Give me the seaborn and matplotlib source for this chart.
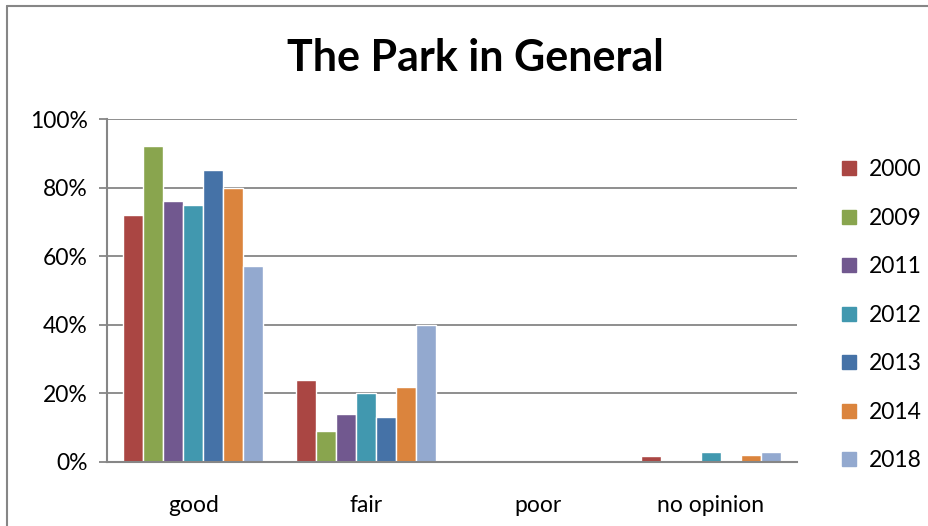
import numpy as np
import pandas as pd
import matplotlib
matplotlib.use('Agg')
import matplotlib.pyplot as plt
import seaborn as sns
from matplotlib.lines import Line2D
from matplotlib.ticker import FixedLocator

categories = ['good', 'fair', 'poor', 'no opinion']
years = ['2000', '2009', '2011', '2012', '2013', '2014', '2018']
v2000 = [72, 24, 0.6, 1.7]
v2009 = [92, 9, 0, 0]
v2011 = [76, 14, 0, 0.5]
v2012 = [75, 20, 0, 3]
v2013 = [85, 13, 0, 0]
v2014 = [80, 22, 0, 2]
v2018 = [57, 40, 0, 3]
colors = ['#AA4643', '#89A54E', '#71588F', '#4198AF', '#4572A7', '#DB843D', '#93A9CF']

rows = []
for yr, vals in zip(years, [v2000, v2009, v2011, v2012, v2013, v2014, v2018]):
    for c, v in zip(categories, vals):
        rows.append({'category': c, 'year': yr, 'value': v})
df = pd.DataFrame(rows)

sns.set_style('white')
plt.rcParams['font.family'] = ['Lato', 'DejaVu Sans']
plt.rcParams['text.color'] = 'black'
plt.rcParams['xtick.color'] = 'black'
plt.rcParams['ytick.color'] = 'black'

fs = 16.5

fig = plt.figure(figsize=(9.29, 5.26), dpi=100)
ax = fig.add_axes([107/929, 1 - 462/526, 690/929, 343/526])

sns.barplot(data=df, x='category', y='value', hue='year', palette=colors,
            width=0.81, ax=ax, legend=False, saturation=1, zorder=3)

ax.set_ylim(0, 100)
ax.set_xlim(-0.5, 3.5)
ax.set_yticks(np.arange(0, 101, 20))
ax.set_yticklabels([f'{t}%' for t in range(0, 101, 20)], fontsize=fs)
ax.yaxis.grid(True, color='#868686', linewidth=1.3, zorder=0)
ax.set_xticks(range(4))
ax.set_xticklabels(categories, fontsize=fs)
ax.xaxis.set_minor_locator(FixedLocator([-0.5, 0.5, 1.5, 2.5, 3.5]))
ax.tick_params(axis='x', which='major', length=0, pad=24)
ax.tick_params(axis='x', which='minor', length=6, width=1.3, color='#868686', direction='out')
ax.tick_params(axis='y', length=6, width=1.3, color='#868686', labelcolor='black',
               direction='out', pad=8, left=True)
ax.set_xlabel('')
ax.set_ylabel('')
for side in ['top', 'right']:
    ax.spines[side].set_visible(False)
for side in ['left', 'bottom']:
    ax.spines[side].set_color('#868686')
    ax.spines[side].set_linewidth(1.5)
    ax.spines[side].set_zorder(4)

fig.text(475/929, 1 - 58/526, 'The Park in General', ha='center', va='center',
         fontsize=31, fontweight='bold', color='black')

handles = [Line2D([], [], marker='s', linestyle='', markersize=10, color=c) for c in colors]
fig.legend(handles, years, loc='upper left', bbox_to_anchor=(832/929, 1 - 150/526),
           frameon=False, fontsize=fs, handlelength=0.7, handletextpad=0.5,
           labelspacing=1.2, borderaxespad=0)

# chart border (left and top visible in the crop)
fig.add_artist(Line2D([7/929, 7/929], [0, 1 - 6/526], color='#868686', linewidth=1.5))
fig.add_artist(Line2D([7/929, 1], [1 - 6/526, 1 - 6/526], color='#868686', linewidth=1.5))

fig.savefig('out.png', dpi=100)
